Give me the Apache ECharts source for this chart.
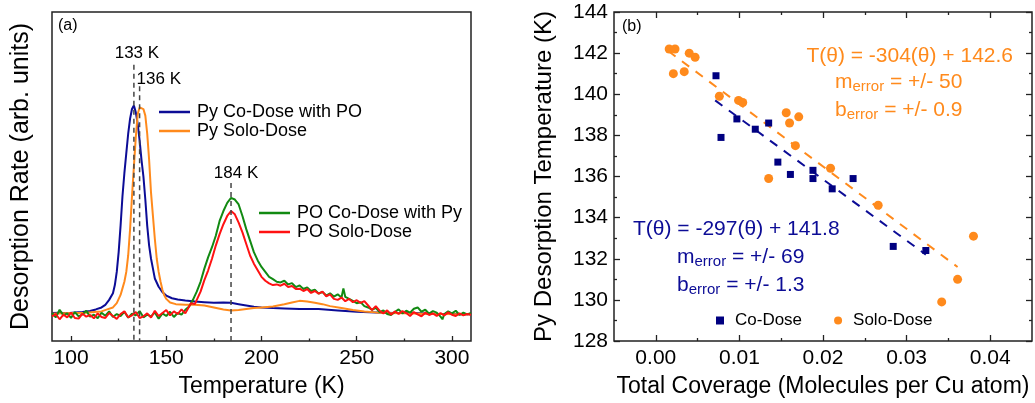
<!DOCTYPE html>
<html>
<head>
<meta charset="utf-8">
<script src="https://cdn.jsdelivr.net/npm/echarts@6/dist/echarts.min.js"></script>
<style>
html,body{margin:0;padding:0;background:#fff;}
#main{width:1035px;height:403px;}
</style>
</head>
<body>
<div id="main"></div>
<script>
// ---- (a) TPD traces: [temperature (K), desorption rate (arb.)]
var pyCoDose = [[90,8.5],[94,8.6],[98,8.4],[102,8.7],[106,8.8],[110,9.1],[113,9.6],[116,10.2],[118,11],[120,12.5],[122,14.5],[123,17],[124,21],[125,27],[126,35],[127,44],[128,51],[129,57],[130,63],[131,67.6],[132,70.5],[133,71.6],[134,69.5],[135,66],[136,61],[137,55],[138,50],[139,43],[140,35],[141,29],[142,25],[143,22],[144,19],[146,16.5],[148,14.8],[150,13.8],[153,13],[156,12.6],[160,12.3],[165,12],[170,11.8],[175,11.6],[180,11.7],[184,11.6],[188,11.2],[192,10.8],[196,10.4],[200,10.2],[206,10],[212,9.9],[220,9.7],[230,9.7],[240,9.3],[250,8.9],[260,8.7],[270,8.5],[280,8.5],[290,8.3],[300,8.2],[310,8.1]];
var pySoloDose = [[90,8.3],[96,8.4],[102,8.5],[108,8.6],[112,8.8],[116,9],[119,9.6],[122,10.2],[124,11.5],[126,14],[127,16],[128,18],[129,21],[130,26],[131,34],[132,44],[133,53],[134,62],[135,69],[136,71],[137,71.3],[138,70.5],[139,68.5],[140,63],[141,55],[142,45],[143,38],[144,31],[145,25],[146,21],[147,18],[148,15.5],[149,13.8],[150,12.8],[152,11.7],[155,11.2],[160,11],[165,11],[170,10.8],[175,10.2],[180,9.6],[184,9.3],[188,9.4],[192,9.7],[196,10],[200,10.2],[206,10.5],[212,11.2],[216,11.7],[220,12.2],[224,12],[228,11.6],[232,11.2],[236,10.6],[242,10],[248,9.4],[254,9],[260,8.7],[266,8.5],[275,8.4],[285,8.3],[295,8.2],[310,8.1]];
var poCoDose = [[90,8.5],[92,7.2],[94,9.5],[96,7.8],[98,8.4],[100,7],[102,8.8],[104,7.5],[106,8.1],[108,9.2],[110,7.4],[112,8],[114,6.9],[116,8.6],[118,7.7],[120,9],[122,7.3],[124,8.2],[126,7.6],[128,8.9],[130,7.1],[132,8.3],[134,7.8],[136,9.1],[138,7.2],[140,8],[142,7.5],[144,8.7],[146,6.8],[148,8.4],[150,7.6],[152,8.9],[154,7.3],[156,8.5],[158,8],[160,9.5],[162,10.5],[164,12.5],[166,15],[168,18],[170,22],[172,25.5],[174,28.5],[176,32],[178,36.5],[180,39.5],[182,42],[184,43.5],[186,43],[188,41.5],[190,38],[192,34],[194,30.5],[196,27],[198,24.5],[200,22.5],[202,21],[204,19.5],[206,18.8],[208,18],[210,17.8],[212,18.3],[214,17.2],[216,17.6],[218,16.4],[220,16.9],[222,15.8],[224,16.3],[226,15.2],[228,15.6],[230,14.4],[232,14.9],[234,13.8],[236,14.5],[238,13.5],[240,14.2],[242,13.2],[243,16],[244,13.4],[246,12.8],[248,12.2],[250,11.5],[252,11.8],[254,10.6],[256,10.2],[258,9.5],[260,10.1],[262,8.8],[264,9.3],[266,8.2],[268,7.9],[270,8.8],[272,9.6],[274,8.4],[276,9.2],[278,8.6],[280,9.8],[282,10.2],[284,8.9],[286,9.5],[288,8.3],[290,9.1],[292,8.6],[294,7.4],[295,6.6],[296,8.2],[298,9],[300,8.4],[302,9.2],[304,7.9],[306,8.6],[308,8.1],[310,8.5]];
var poSoloDose = [[90,7.5],[92,8.2],[94,6.6],[96,8],[98,7.2],[100,8.6],[102,7],[104,6.8],[106,8.3],[108,7.4],[110,7.9],[112,6.9],[114,8.4],[116,7.3],[118,7],[120,8.5],[122,7.6],[124,6.7],[126,8.2],[128,9],[130,7.2],[132,7.8],[134,8.8],[136,7],[138,7.5],[140,8.4],[142,7.1],[144,9.2],[146,7.6],[148,8.5],[150,9.4],[152,7.8],[154,9],[156,8.2],[158,9.6],[160,8.4],[162,10.5],[163,11.5],[165,11.2],[166,11.8],[168,15],[170,18.5],[172,21.5],[174,25],[176,29],[178,32.5],[180,35.5],[182,38],[184,39.5],[186,38.5],[188,36],[190,33],[192,29.5],[194,26],[196,23.5],[198,21.5],[200,19.5],[202,18.3],[204,17.5],[206,17],[208,17.2],[210,16.8],[212,17.4],[214,16.4],[216,16.7],[218,15.8],[220,15.9],[222,15.2],[224,15.8],[226,14.6],[228,15.2],[230,14.4],[232,15],[234,13.6],[236,14.2],[238,12.8],[240,12.5],[242,13.2],[244,12.1],[246,12.8],[248,11.8],[250,12.4],[252,11.6],[254,12.1],[256,10.8],[258,9.4],[260,10.6],[262,9.2],[264,8.4],[266,9.3],[268,8],[270,9],[272,8.2],[274,9.1],[276,8.5],[278,7.6],[280,8.8],[282,8.1],[284,7.5],[286,8.6],[288,7.9],[290,8.4],[292,7.6],[294,8.5],[296,7.8],[298,8.7],[300,8],[302,7.6],[304,8.4],[306,7.8],[308,8.2],[310,8]];

// peak markers (K) and how high each dashed line reaches
var peakTemps = [133, 136, 184];
var peakTops = [84, 77.4, 48];

// ---- (b) peak temperature vs coverage: [coverage, T (K)]
var coDose = [[0.0072,140.9],[0.0078,137.9],[0.0097,138.8],[0.0119,138.3],[0.0135,138.6],[0.0146,136.7],[0.0161,136.1],[0.0188,136.3],[0.0188,135.9],[0.0211,135.4],[0.0236,135.9],[0.0284,132.6],[0.0323,132.4]];
var soloDose = [[0.0016,142.2],[0.0023,142.2],[0.0021,141.0],[0.0034,141.1],[0.0040,142.0],[0.0047,141.8],[0.0076,139.9],[0.0099,139.7],[0.0104,139.6],[0.0135,135.9],[0.0156,139.1],[0.0160,138.6],[0.0171,138.9],[0.0167,137.5],[0.0209,136.4],[0.0266,134.6],[0.0342,129.9],[0.0361,131.0],[0.0380,133.1]];
// linear fit end points
var coFit = [[0.0071,139.7],[0.0323,132.2]];
var soloFit = [[0.0015,142.1],[0.0361,131.6]];

// tick values
var tempTicks = [100, 150, 200, 250, 300];
var tempMinor = [125, 175, 225, 275];
var covTicks = [0, 0.01, 0.02, 0.03, 0.04];
var covMinor = [0.005, 0.015, 0.025, 0.035];

(function(){
	var chart = echarts.init(document.getElementById('main'));
	var navy = '#0c0c96', orange = '#ff8a1c', green = '#128a12', red = '#ff1212';
	var ink = '#222';
	var font = 'Liberation Sans';

	//横轴刻度（内向）
	function tickAxis(grid, min, max, pos, ticks, len){
		return {
			gridIndex: grid, type: 'value', min: min, max: max, position: pos,
			axisLine: {show: false, onZero: false}, splitLine: {show: false},
			axisTick: {inside: true, length: len, customValues: ticks, lineStyle: {color: ink, width: 1.3}},
			axisLabel: {show: false}
		};
	}
	var xA = tickAxis(0, 90, 310, 'bottom', tempTicks, 5);
	xA.axisLabel = {customValues: tempTicks, fontSize: 21, color: '#000', margin: 7};
	xA.name = 'Temperature (K)';
	xA.nameLocation = 'middle';
	xA.nameGap = 34;
	xA.nameTextStyle = {fontSize: 23, color: '#000'};

	var xB = tickAxis(1, -0.005, 0.045, 'bottom', covTicks, 6);
	xB.axisLabel = {customValues: covTicks, fontSize: 21, color: '#000', margin: 7,
		formatter: function(v){ return v.toFixed(2); }};
	xB.name = 'Total Coverage (Molecules per Cu atom)';
	xB.nameLocation = 'middle';
	xB.nameGap = 34;
	xB.nameTextStyle = {fontSize: 23, color: '#000'};

	function yB(pos, labels){
		return {
			gridIndex: 1, type: 'value', min: 128, max: 144, interval: 2, position: pos,
			axisLine: {show: false, onZero: false}, splitLine: {show: false},
			axisTick: {inside: true, length: 6, lineStyle: {color: ink, width: 1.3}},
			minorTick: {show: true, splitNumber: 2, length: 3, lineStyle: {color: ink, width: 1.3}},
			axisLabel: {show: labels, fontSize: 21, color: '#000', margin: 6}
		};
	}
	var yLeft = yB('left', true);
	yLeft.name = 'Py Desorption Temperature (K)';
	yLeft.nameLocation = 'middle';
	yLeft.nameGap = 58;
	yLeft.nameTextStyle = {fontSize: 24, color: '#000'};

	function trace(name, data, color){
		return {name: name, type: 'line', xAxisIndex: 0, yAxisIndex: 0, data: data,
			symbol: 'none', lineStyle: {color: color, width: 2}, itemStyle: {color: color}, z: 3};
	}

	var series = [
		trace('Py Co-Dose with PO', pyCoDose, navy),
		trace('Py Solo-Dose', pySoloDose, orange),
		trace('PO Co-Dose with Py', poCoDose, green),
		trace('PO Solo-Dose', poSoloDose, red)
	];
	//峰位虚线
	peakTemps.forEach(function(t, i){
		series.push({type: 'line', xAxisIndex: 0, yAxisIndex: 0, symbol: 'none', z: 4,
			data: [[t, peakTops[i]], [t, 0]],
			lineStyle: {color: '#444', width: 1.5, type: [5, 4]}});
	});
	//拟合线
	series.push({type: 'line', xAxisIndex: 2, yAxisIndex: 1, data: coFit, symbol: 'none',
		lineStyle: {color: navy, width: 2, type: [9, 8]}});
	series.push({type: 'line', xAxisIndex: 2, yAxisIndex: 1, data: soloFit, symbol: 'none',
		lineStyle: {color: orange, width: 2, type: [9, 8]}});
	series.push({name: 'Co-Dose', type: 'scatter', xAxisIndex: 2, yAxisIndex: 1, data: coDose,
		symbol: 'rect', symbolSize: 7, itemStyle: {color: '#000080', opacity: 1}, z: 5});
	series.push({name: 'Solo-Dose', type: 'scatter', xAxisIndex: 2, yAxisIndex: 1, data: soloDose,
		symbol: 'circle', symbolSize: 9, itemStyle: {color: orange, opacity: 1}, z: 5});

	var lineLegend = {orient: 'vertical', icon: 'rect', itemWidth: 31, itemHeight: 2.5, itemGap: 1, padding: 0,
		textStyle: {fontSize: 18, color: '#000', padding: [0, 0, 0, 2]}};

	var option = {
		animation: false,
		textStyle: {fontFamily: font},
		grid: [
			{left: 52, top: 12, width: 419, height: 333, show: true, borderColor: ink, borderWidth: 1.5},
			{left: 614, top: 12, width: 418, height: 332, show: true, borderColor: ink, borderWidth: 1.5}
		],
		legend: [
			echarts.util.extend({left: 159, top: 103, data: ['Py Co-Dose with PO', 'Py Solo-Dose']}, lineLegend),
			echarts.util.extend({left: 259, top: 204, data: ['PO Co-Dose with Py', 'PO Solo-Dose']}, lineLegend),
			{left: 716, top: 312, padding: 0, itemWidth: 8, itemHeight: 8, itemGap: 32, data: ['Co-Dose', 'Solo-Dose'],
				textStyle: {fontSize: 17, color: '#000', padding: [0, 0, 0, 6]}}
		],
		xAxis: [
			xA,
			tickAxis(0, 90, 310, 'bottom', tempMinor, 2.5),
			xB,
			tickAxis(1, -0.005, 0.045, 'bottom', covMinor, 3),
			tickAxis(1, -0.005, 0.045, 'top', covTicks, 6),
			tickAxis(1, -0.005, 0.045, 'top', covMinor, 3)
		],
		yAxis: [
			{gridIndex: 0, type: 'value', min: 0, max: 100,
				axisLine: {show: false, onZero: false}, axisTick: {show: false}, axisLabel: {show: false}, splitLine: {show: false},
				name: 'Desorption Rate (arb. units)', nameLocation: 'middle', nameGap: 18,
				nameTextStyle: {fontSize: 25, color: '#000'}},
			yLeft,
			yB('right', false)
		],
		series: series
	};
	chart.setOption(option);

	//文字标注
	var g = [];
	function txt(x, y, s, size, color, align){
		g.push({type: 'text', x: x, y: y, silent: true, z: 10,
			style: {text: s, fontSize: size, fill: color, fontFamily: font, align: align || 'left', verticalAlign: 'middle'}});
	}
	function subTxt(x, y, main, sub, rest, color){
		g.push({type: 'text', x: x, y: y, silent: true, z: 10,
			style: {text: '{m|' + main + '}{s|' + sub + '}{m|' + rest + '}', verticalAlign: 'middle', fontFamily: font,
				rich: {m: {fontSize: 21, fill: color, fontFamily: font},
					s: {fontSize: 15, fill: color, fontFamily: font, padding: [9, 0, 0, 0]}}}});
	}
	txt(58, 26, '(a)', 16, '#000');
	txt(622, 27, '(b)', 16, '#000');
	var labelShift = [[3, -11, 'center'], [-3, -7, 'left'], [5, -10, 'center']];
	peakTemps.forEach(function(t, i){
		var p = chart.convertToPixel({xAxisIndex: 0, yAxisIndex: 0}, [t, peakTops[i]]);
		txt(p[0] + labelShift[i][0], p[1] + labelShift[i][1], t + ' K', 17, '#000', labelShift[i][2]);
	});
	txt(1013, 56, 'T(θ) = -304(θ) + 142.6', 21, orange, 'right');
	subTxt(835, 82, 'm', 'error', ' = +/- 50', orange);
	subTxt(835, 110, 'b', 'error', ' = +/- 0.9', orange);
	txt(633, 229, 'T(θ) = -297(θ) + 141.8', 21, navy);
	subTxt(677, 257, 'm', 'error', ' = +/- 69', navy);
	subTxt(677, 285, 'b', 'error', ' = +/- 1.3', navy);
	chart.setOption({graphic: g});
})();
</script>
</body>
</html>
